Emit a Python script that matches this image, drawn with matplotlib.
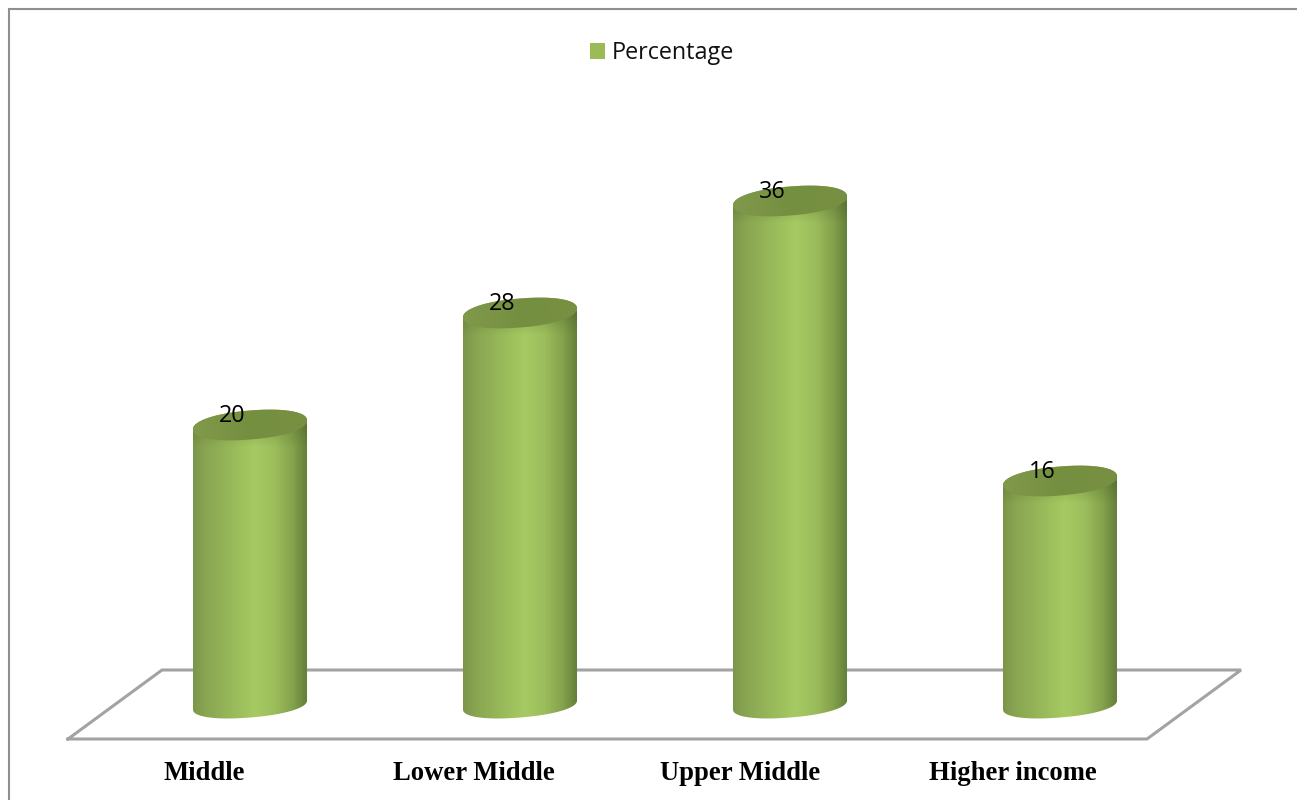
import numpy as np
import matplotlib
matplotlib.use("Agg")
import matplotlib.pyplot as plt
from matplotlib.colors import LinearSegmentedColormap
from matplotlib.lines import Line2D
from matplotlib.patches import Patch, PathPatch
from matplotlib.path import Path

categories = ["Middle", "Lower Middle", "Upper Middle", "Higher income"]
percentages = [20, 28, 36, 16]
series_name = "Percentage"

W, H = 1297, 800
SPACING = 270.0        # px between categories
X0_PX = 250.0          # px of the first category
Y0_PX = 705.0          # px of value 0
UNIT_PX = 14.0         # px per percentage point

fig = plt.figure(figsize=(W / 100, H / 100), dpi=100, facecolor="white")
ax = fig.add_axes([0, 0, 1, 1])
ax.axis("off")


def px(x, y):
    """Figure pixels (origin top left) to data coordinates."""
    return (x - X0_PX) / SPACING, (Y0_PX - y) / UNIT_PX


# Chart frame: only the left and top edges fall inside the canvas
frame = [px(8.5, 800), px(8.5, 9.5), px(1297, 9.5)]
ax.add_line(Line2D(*zip(*frame), color="#8f8f8f", lw=1.5, zorder=1,
                   solid_joinstyle="miter"))

# Floor of the 3D plot
floor = [px(68, 739), px(162, 670), px(1241, 670), px(1147, 739), px(68, 739)]
ax.add_line(Line2D(*zip(*floor), color="#a3a3a3", lw=2.2, zorder=1,
                   solid_joinstyle="miter"))

body_cmap = LinearSegmentedColormap.from_list("body", [
    (0.00, "#7b9649"), (0.10, "#88a451"), (0.35, "#99ba5a"), (0.55, "#a6ca63"),
    (0.72, "#9cbd5b"), (0.88, "#84a14c"), (1.00, "#64803a"),
])
cap_cmap = LinearSegmentedColormap.from_list("cap", ["#80994a", "#758f41", "#778f42"])

A = 57.0 / SPACING     # half width of a cylinder
B_TOP = 14.5 / UNIT_PX  # vertical half axis of the top ellipse
B_BASE = 12.5 / UNIT_PX  # vertical half axis of the base ellipse
TILT = 4.5 / UNIT_PX   # rise of the right side over the left
ROUND = 0.92           # exponent below 1 gives fuller, rounder ellipses
SHADE_PX = 22.0        # depth of the soft shading below the top ellipse


def arc(xc, yc, b, t0, t1, n=120):
    t = np.linspace(t0, t1, n)
    c, s = np.cos(t), np.sin(t)
    ex = np.sign(c) * np.abs(c) ** ROUND
    ey = np.sign(s) * np.abs(s) ** ROUND
    return xc + A * ex, yc + b * ey + TILT * ex


# Darkening that fades out downwards from the rim of the cylinder
shade = np.zeros((64, 1, 4))
shade[..., :3] = (0.25, 0.32, 0.12)
shade[:, 0, 3] = np.linspace(0.28, 0.0, 64)

for i, value in enumerate(percentages):
    # Body: lower half of the base ellipse, closed along the top ellipse
    bx, by = arc(i, 0, B_BASE, np.pi, 2 * np.pi)
    tx, ty = arc(i, value, B_TOP, 0, np.pi)
    verts = np.column_stack([np.r_[bx, tx], np.r_[by, ty]])
    body = Path(np.vstack([verts, verts[0]]), closed=True)
    img = ax.imshow(np.linspace(0, 1, 256)[None, :], cmap=body_cmap, aspect="auto",
                    extent=(i - A, i + A, -2, value + 2), zorder=2)
    img.set_clip_path(PathPatch(body, transform=ax.transData))

    img = ax.imshow(shade, aspect="auto", zorder=2.5,
                    extent=(i - A, i + A, value - SHADE_PX / UNIT_PX, value))
    img.set_clip_path(PathPatch(body, transform=ax.transData))

    # Top cap
    cx, cy = arc(i, value, B_TOP, 0, 2 * np.pi, 200)
    cap = Path(np.column_stack([cx, cy]), closed=True)
    img = ax.imshow(np.linspace(0, 1, 64)[None, :], cmap=cap_cmap, aspect="auto",
                    extent=(i - A, i + A, value - 2, value + 2), zorder=3)
    img.set_clip_path(PathPatch(cap, transform=ax.transData))

    # Value label, slightly off the cylinder axis
    ax.text(i - 17.5 / SPACING, value + 9 / UNIT_PX, str(value), ha="center", va="center",
            family="Open Sans", fontsize=16.8, color="black", zorder=4)

    # Category label
    lx, ly = px(204 + i * 270 - (4 if i == 2 else 0) - (1 if i == 3 else 0), 774)
    ax.text(lx, ly, categories[i], ha="center", va="center", family="Liberation Serif",
            fontweight="bold", fontsize=19.2, color="black", zorder=4)

ax.set_xlim(-X0_PX / SPACING, (W - X0_PX) / SPACING)
ax.set_ylim((Y0_PX - H) / UNIT_PX, Y0_PX / UNIT_PX)

# Legend
ax.legend(handles=[Patch(facecolor="#9bbb59", edgecolor="none", label=series_name)],
          loc="center", bbox_to_anchor=(662 / W, 1 - 53 / H), frameon=False,
          prop={"family": "Open Sans", "size": 16.8}, handlelength=0.65, handleheight=0.65,
          handletextpad=0.27, labelcolor="#111111")

fig.savefig("out.png", dpi=100)
